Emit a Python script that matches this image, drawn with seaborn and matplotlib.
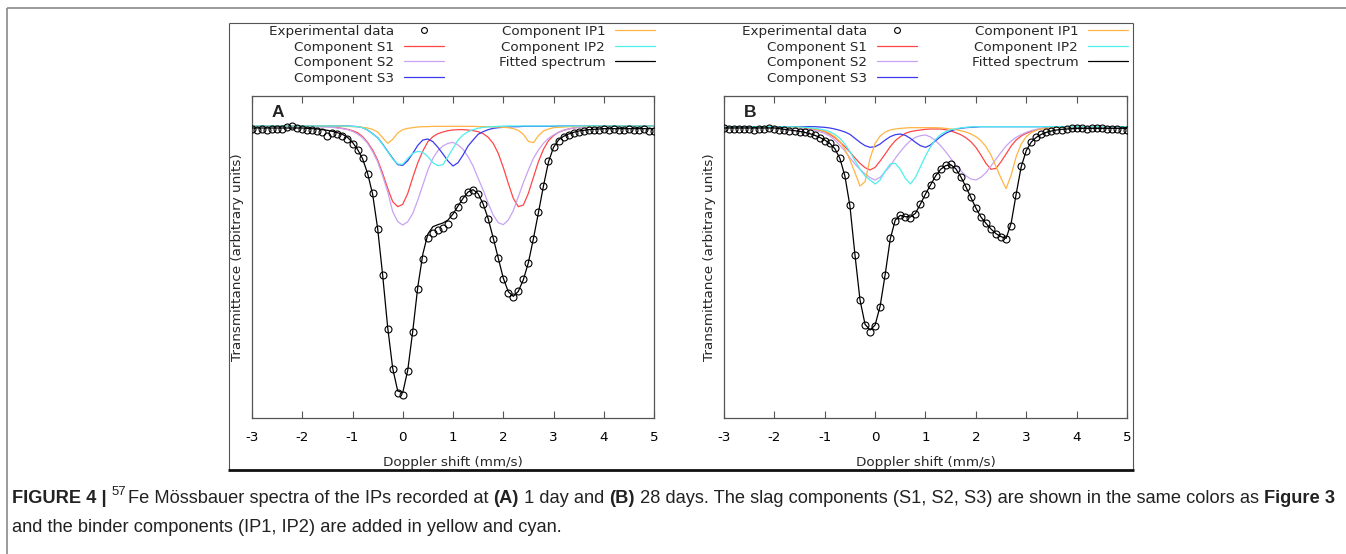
import matplotlib
matplotlib.use("Agg")
import matplotlib.pyplot as plt
from matplotlib.lines import Line2D
import seaborn as sns

# ---------------- data (arbitrary transmittance units) ----------------
VEL = [-3.0, -2.9, -2.8, -2.7, -2.6, -2.5, -2.4, -2.3, -2.2, -2.1,
       -2.0, -1.9, -1.8, -1.7, -1.6, -1.5, -1.4, -1.3, -1.2, -1.1,
       -1.0, -0.9, -0.8, -0.7, -0.6, -0.5, -0.4, -0.3, -0.2, -0.1,
       0.0, 0.1, 0.2, 0.3, 0.4, 0.5, 0.6, 0.7, 0.8, 0.9,
       1.0, 1.1, 1.2, 1.3, 1.4, 1.5, 1.6, 1.7, 1.8, 1.9,
       2.0, 2.1, 2.2, 2.3, 2.4, 2.5, 2.6, 2.7, 2.8, 2.9,
       3.0, 3.1, 3.2, 3.3, 3.4, 3.5, 3.6, 3.7, 3.8, 3.9,
       4.0, 4.1, 4.2, 4.3, 4.4, 4.5, 4.6, 4.7, 4.8, 4.9, 5.0]

COMP_V = [-3.0, -2.0,
          -1.5, -1.4, -1.3, -1.2, -1.1, -1.0,
          -0.9, -0.8, -0.7, -0.6, -0.5, -0.4, -0.3, -0.2, -0.1, 0.0,
          0.1, 0.2, 0.3, 0.4, 0.5, 0.6, 0.7, 0.8, 0.9, 1.0,
          1.1, 1.2, 1.3, 1.4, 1.5, 1.6, 1.7, 1.8, 1.9, 2.0,
          2.1, 2.2, 2.3, 2.4, 2.5, 2.6, 2.7, 2.8, 2.9, 3.0,
          3.1, 3.2, 3.3, 3.4, 3.5, 3.6, 3.7, 3.8,
          4.0, 5.0]

# Panel A (1 day)
A_EXP = [882, 881, 882, 881, 883, 882, 884, 888, 892, 887,
         882, 879, 880, 878, 874, 863, 871, 867, 862, 853,
         837, 821, 795, 748, 691, 583, 444, 282, 162, 90,
         85, 157, 273, 403, 492, 556, 572, 579, 587, 599,
         624, 649, 672, 693, 701, 688, 657, 613, 554, 495,
         432, 391, 379, 396, 432, 481, 554, 633, 713, 787,
         830, 848, 858, 866, 871, 875, 877, 879, 880, 880,
         882, 879, 882, 881, 879, 882, 881, 880, 882, 877, 876]
A_FIT = [886, 886, 886, 886, 886, 886, 886, 886, 886, 886,
         886, 885, 884, 883, 881, 879, 876, 872, 867, 858,
         843, 822, 794, 750, 688, 585, 445, 288, 165, 97,
         92, 160, 278, 410, 508, 568, 590, 596, 601, 610,
         628, 652, 675, 694, 701, 689, 658, 614, 556, 496,
         436, 395, 381, 396, 431, 482, 554, 632, 712, 784,
         828, 850, 861, 868, 873, 877, 879, 881, 882, 883,
         884, 884, 884, 884, 884, 884, 884, 884, 884, 884, 884]
A_S1 = [892, 891,
        890, 889, 887, 885, 882, 878,
        872, 860, 843, 820, 790, 750, 705, 665, 650, 657,
        690, 738, 782, 817, 845, 860, 869, 874, 878, 880,
        881, 881, 880, 878, 875, 869, 858, 840, 810, 768,
        720, 675, 650, 655, 690, 738, 785, 822, 848, 863,
        873, 879, 883, 886, 888, 889, 890, 890,
        891, 892]
A_S2 = [892, 891,
        889, 888, 886, 884, 881, 876,
        868, 857, 840, 815, 785, 742, 695, 635, 605, 595,
        605, 630, 670, 715, 760, 795, 818, 832, 840, 843,
        835, 822, 800, 772, 735, 700, 660, 625, 602, 596,
        610, 638, 680, 722, 760, 795, 820, 840, 855, 865,
        873, 879, 883, 886, 888, 889, 890, 891,
        891, 892]
A_S3 = [892, 892,
        892, 892, 892, 892, 892, 891,
        890, 887, 880, 869, 857, 838, 816, 795, 776, 774,
        788, 810, 834, 850, 853, 845, 828, 808, 787, 772,
        782, 805, 832, 850, 867, 875, 881, 885, 887, 888,
        889, 890, 890, 891, 891, 891, 891, 891, 891, 891,
        892, 892, 892, 892, 892, 892, 892, 892,
        892, 892]
A_IP1 = [892, 892,
         892, 892, 892, 891, 891, 890,
         890, 888, 886, 882, 874, 857, 840, 852, 871, 881,
         885, 887, 889, 890, 890, 891, 891, 891, 891, 891,
         891, 891, 891, 891, 890, 890, 890, 889, 889, 888,
         887, 884, 879, 867, 846, 842, 863, 877, 883, 887,
         888, 889, 890, 890, 891, 891, 891, 891,
         892, 892]
A_IP2 = [892, 892,
         892, 892, 892, 892, 892, 891,
         890, 887, 880, 869, 857, 837, 815, 793, 778, 777,
         795, 810, 816, 813, 800, 782, 773, 776, 800, 825,
         850, 865, 875, 881, 885, 888, 889, 890, 891, 892,
         892, 892, 892, 892, 892, 892, 892, 892, 892, 892,
         892, 892, 892, 892, 892, 892, 892, 892,
         892, 892]

# Panel B (28 days)
B_EXP = [887, 884, 882, 882, 883, 882, 881, 883, 883, 885,
         882, 880, 879, 878, 877, 875, 873, 870, 865, 857,
         848, 842, 825, 795, 745, 655, 505, 370, 295, 275,
         292, 350, 445, 555, 608, 624, 620, 617, 628, 659,
         688, 715, 742, 763, 774, 777, 762, 738, 710, 678,
         646, 618, 600, 582, 568, 560, 553, 592, 685, 772,
         818, 845, 858, 867, 873, 876, 879, 881, 883, 885,
         886, 886, 884, 886, 887, 885, 884, 883, 882, 881, 880]
B_FIT = [886, 886, 886, 886, 886, 886, 886, 886, 886, 886,
         886, 884, 882, 880, 878, 876, 873, 869, 864, 858,
         850, 840, 824, 795, 742, 652, 505, 370, 297, 280,
         295, 352, 447, 553, 610, 624, 620, 619, 630, 658,
         688, 715, 742, 762, 773, 776, 764, 740, 710, 678,
         646, 619, 600, 583, 569, 560, 555, 600, 688, 770,
         818, 844, 858, 867, 873, 877, 880, 882, 883, 884,
         885, 885, 885, 885, 885, 885, 885, 885, 885, 885, 885]
B_S1 = [890, 889,
        887, 886, 884, 882, 879, 875,
        867, 857, 844, 830, 814, 796, 780, 767, 760, 768,
        787, 808, 830, 848, 860, 870, 875, 878, 880, 882,
        883, 883, 883, 881, 877, 872, 866, 857, 845, 828,
        805, 780, 762, 765, 785, 808, 832, 850, 862, 870,
        876, 881, 884, 886, 887, 888, 889, 889,
        890, 890]
B_S2 = [890, 889,
        886, 884, 882, 879, 875, 870,
        862, 850, 834, 817, 797, 778, 762, 748, 737, 730,
        738, 755, 772, 795, 815, 833, 848, 858, 863, 865,
        859, 848, 833, 815, 795, 775, 758, 743, 733, 730,
        738, 752, 772, 793, 813, 832, 847, 858, 866, 873,
        878, 882, 884, 886, 887, 888, 889, 890,
        890, 890]
B_S3 = [890, 890,
        890, 890, 890, 890, 889, 888,
        886, 883, 879, 874, 867, 855, 843, 833, 828, 830,
        838, 850, 860, 866, 868, 864, 855, 843, 833, 828,
        835, 848, 860, 870, 877, 882, 885, 887, 888, 889,
        890, 890, 890, 890, 890, 890, 890, 890, 890, 890,
        890, 890, 890, 890, 890, 890, 890, 890,
        890, 890]
B_IP1 = [890, 889,
         888, 887, 885, 883, 880, 876,
         870, 860, 845, 822, 790, 752, 712, 725, 795, 840,
         862, 874, 880, 883, 885, 886, 887, 887, 887, 887,
         887, 887, 886, 885, 883, 881, 878, 874, 868, 860,
         848, 830, 805, 770, 735, 704, 745, 800, 838, 860,
         872, 879, 883, 885, 887, 888, 889, 889,
         890, 890]
B_IP2 = [890, 890,
         889, 888, 887, 885, 883, 880,
         875, 867, 855, 838, 815, 788, 762, 742, 730, 718,
         730, 757, 778, 780, 762, 735, 718, 738, 770, 802,
         830, 852, 866, 875, 881, 884, 886, 888, 889, 890,
         890, 890, 890, 890, 890, 890, 890, 890, 890, 890,
         890, 890, 890, 890, 890, 890, 890, 890,
         890, 890]

TICKS = [-3, -2, -1, 0, 1, 2, 3, 4, 5]
TICK_LABELS = ["-3", "-2", "-1", "0", "1", "2", "3", "4", "5"]
PANELS = ["A", "B"]
LEGEND_ORDER = ["Experimental data", "Component S1", "Component S2", "Component S3",
                "Component IP1", "Component IP2", "Fitted spectrum"]

COL = {"Component S1": "#ff4646", "Component S2": "#c9a2f2", "Component S3": "#3a3af0",
       "Component IP1": "#ffb443", "Component IP2": "#4defef"}

# ---------------- figure ----------------
W, H = 1346, 554
sns.set_theme(style="white")
plt.rcParams["font.family"] = ["DejaVu Sans"]
plt.rcParams["axes.unicode_minus"] = False

fig = plt.figure(figsize=(W / 100, H / 100), dpi=100)
fig.patch.set_facecolor("white")


def px_axes(l, t, r, b):
    return fig.add_axes([l / W, 1 - b / H, (r - l) / W, (b - t) / H])


def fig_line(x0, y0, x1, y1, color, lw):
    fig.add_artist(Line2D([x0 / W, x1 / W], [1 - y0 / H, 1 - y1 / H],
                          transform=fig.transFigure, color=color, lw=lw,
                          solid_capstyle="butt"))


# page frame and image box
fig_line(7, 8, W, 8, "#8a8a8a", 1.2)
fig_line(7, 8, 7, H, "#8a8a8a", 1.2)
fig_line(229, 23, 1133, 23, "#555555", 0.8)
fig_line(229, 23, 229, 470, "#555555", 0.8)
fig_line(1133, 23, 1133, 470, "#555555", 0.8)
fig_line(228, 470, 1134, 470, "#111111", 2.0)

axes_px = [(252, 96, 654, 418), (724, 96, 1127, 418)]
data = [
    dict(exp=A_EXP, fit=A_FIT, comps=[("Component S1", A_S1), ("Component S2", A_S2),
                                      ("Component S3", A_S3), ("Component IP1", A_IP1),
                                      ("Component IP2", A_IP2)]),
    dict(exp=B_EXP, fit=B_FIT, comps=[("Component S1", B_S1), ("Component S2", B_S2),
                                      ("Component S3", B_S3), ("Component IP1", B_IP1),
                                      ("Component IP2", B_IP2)]),
]

FS = 9.7
for (l, t, r, b), d, letter in zip(axes_px, data, PANELS):
    ax = px_axes(l, t, r, b)
    for name, vals in d["comps"]:
        sns.lineplot(x=COMP_V, y=vals, ax=ax, color=COL[name], lw=0.9,
                     label=name, sort=False, estimator=None, zorder=2)
    sns.lineplot(x=VEL, y=d["fit"], ax=ax, color="black", lw=0.9,
                 label="Fitted spectrum", sort=False, estimator=None, zorder=3)
    sns.lineplot(x=VEL, y=d["exp"], ax=ax, color="black", marker="o", linestyle="",
                 markersize=5, markerfacecolor="none", markeredgecolor="black",
                 markeredgewidth=0.8, label="Experimental data", sort=False,
                 estimator=None, zorder=4)

    ax.set_xlim(-3, 5)
    ax.set_ylim(16, 982)
    ax.set_xticks(TICKS)
    ax.set_xticklabels(TICK_LABELS)
    ax.set_yticks([])
    ax.tick_params(axis="x", direction="in", top=True, bottom=True, length=5,
                   width=0.8, color="#555555", pad=9.7, labelsize=FS, labelcolor="black")
    for s in ax.spines.values():
        s.set_color("#555555")
        s.set_linewidth(0.9)
    ax.set_xlabel("Doppler shift (mm/s)", fontsize=FS, labelpad=8.5)
    ax.set_ylabel("Transmittance (arbitrary units)", fontsize=FS, labelpad=6)
    ax.set_facecolor("white")

    ax.text(0.049, 0.934, letter, transform=ax.transAxes, fontsize=12.5,
            fontweight="bold", family="Liberation Sans", va="baseline", ha="left",
            color="#222222")

    handles, labels = ax.get_legend_handles_labels()
    hmap = dict(zip(labels, handles))
    leg = ax.legend([hmap[k] for k in LEGEND_ORDER], LEGEND_ORDER, ncol=2,
                    markerfirst=False, frameon=False, fontsize=FS,
                    handlelength=3.0, handletextpad=0.7, columnspacing=4.05,
                    labelspacing=0.19, borderpad=0, borderaxespad=0,
                    loc="upper right", bbox_to_anchor=((r + 1) / W, 1 - 25 / H),
                    bbox_transform=fig.transFigure)
    for h in leg.legend_handles:
        if h.get_marker() == "o":
            h.set_markersize(4.2)

# ---------------- caption ----------------
CAP1 = [("FIGURE 4 | ", "bold", False), ("57", "normal", True),
        ("Fe Mössbauer spectra of the IPs recorded at ", "normal", False),
        ("(A)", "bold", False), (" 1 day and ", "normal", False),
        ("(B)", "bold", False),
        (" 28 days. The slag components (S1, S2, S3) are shown in the same colors as ", "normal", False),
        ("Figure 3", "bold", False)]
CAP2 = [("and the binder components (IP1, IP2) are added in yellow and cyan.", "normal", False)]

renderer = fig.canvas.get_renderer()


def draw_runs(runs, x0, ybase, size, keep=True):
    x = x0
    arts = []
    for txt, weight, sup in runs:
        fs = size * 0.72 if sup else size
        yb = ybase - (size * 0.42 * 100 / 72 if sup else 0)
        t = fig.text(x / W, 1 - yb / H, txt, fontsize=fs, fontweight=weight,
                     family="Liberation Sans", color="#222222", va="baseline", ha="left")
        bb = t.get_window_extent(renderer)
        x += bb.width + (size * 0.12 if sup else 0)
        arts.append(t)
    if not keep:
        for a in arts:
            a.remove()
    return x - x0


target = 1335 - 12
cap_size = 10.0
for _ in range(3):
    w = draw_runs(CAP1, 12, 503, cap_size, keep=False)
    cap_size = cap_size * target / w
draw_runs(CAP1, 12, 503, cap_size)
draw_runs(CAP2, 12, 532, cap_size)

fig.savefig("out.png", dpi=100, facecolor="white")
